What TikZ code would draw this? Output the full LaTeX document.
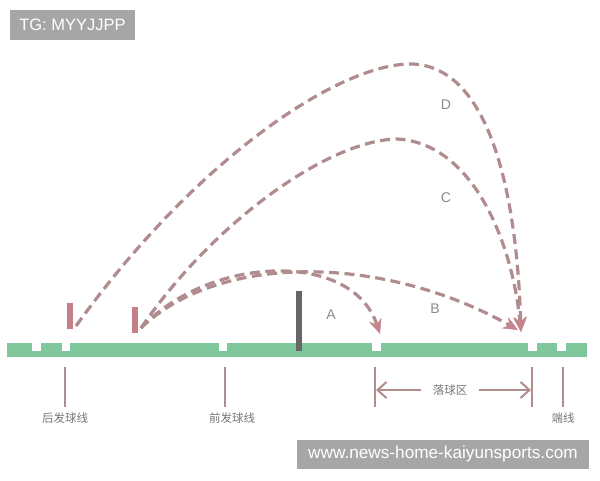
\documentclass[tikz,border=0pt]{standalone}
\usepackage{fontspec}
\newfontfamily\cjk{Noto Sans CJK SC}
\newfontfamily\wmfont{Liberation Sans}
\usetikzlibrary{arrows.meta}
\definecolor{court}{RGB}{128,199,156}
\definecolor{shotc}{RGB}{176,140,142}
\definecolor{tipc}{RGB}{198,132,142}
\definecolor{racketc}{RGB}{196,128,136}
\definecolor{netc}{RGB}{102,102,102}
\definecolor{labc}{RGB}{118,118,118}
\definecolor{wmbg}{RGB}{166,166,166}
\tikzset{shot/.style={draw=shotc, line width=3.2pt, dash pattern=on 10pt off 5.5pt,
    -{Stealth[length=15pt,width=13pt,inset=5pt,line width=0.5pt,color=tipc,fill=tipc]}},
  racket/.style={rectangle, fill=racketc, minimum width=6pt, minimum height=26pt, inner sep=0pt},
  tick/.style={draw=shotc, line width=2pt},
  lab/.style={text=labc, font=\cjk\fontsize{11.5}{12}\selectfont, inner sep=0pt},
  shotlab/.style={text=labc!85, font=\wmfont\fontsize{14}{15}\selectfont, inner sep=0pt},
  wmark/.style={fill=wmbg, text=white, font=\wmfont\fontsize{16.5}{18}\selectfont, inner sep=0pt}}
\begin{document}
\begin{tikzpicture}[x=1pt,y=-1pt]
  \useasboundingbox (0,0) rectangle (600,480);
  % court
  \fill[court] (7,343) rectangle (587,357);
  \foreach \a/\b in {32/41,62/70,219/227,372/381,528/537,557/566}
    \fill[white] (\a,342.5) rectangle (\b,351);
  \fill[netc] (296,291) rectangle (302,351);
  \node[racket] (rk1) at (70,316) {};
  \node[racket] (rk2) at (135,319.5) {};
  \coordinate (hit1) at (76,326);
  \coordinate (hit2) at (141,328);
  \coordinate (landA) at (380,334);
  \coordinate (landB) at (518,330);
  \coordinate (landC) at (521,332);
  % shots
  \draw[shot] (hit2) .. controls (210,255) and (352,250) .. (landA);
  \draw[shot] (hit2) .. controls (220,252) and (385,255) .. (landB);
  \draw[shot] (hit2) .. controls (215,220) and (330,140) .. (397,139)
    .. controls (472,143) and (512,240) .. (landC);
  \draw[shot] (hit1) .. controls (195,160) and (340,62) .. (413,64)
    .. controls (492,68) and (517,200) .. (landC);
  \node[shotlab] (la) at (331,315) {A};
  \node[shotlab] (lb) at (435,309) {B};
  \node[shotlab] (lc) at (446,198) {C};
  \node[shotlab] (ld) at (446,105) {D};
  % lines under the court
  \foreach \x/\n in {65/t1,225/t2,375/t3,532/t4,563/t5} {
    \coordinate (\n a) at (\x,367);
    \coordinate (\n b) at (\x,407);
    \draw[tick] (\n a) -- (\n b);
  }
  \node[lab] (back) at (65,418) {后发球线};
  \node[lab] (front) at (232,418) {前发球线};
  \node[lab] (endl) at (563,418) {端线};
  \node[lab] (zone) at (450,390) {落球区};
  \coordinate (z1) at (376,390);
  \coordinate (z2) at (531,390);
  \draw[tick, -{Straight Barb[length=9pt,width=16pt]}] (zone.west) ++(-12,0) -- (z1);
  \draw[tick, -{Straight Barb[length=9pt,width=16pt]}] (zone.east) ++(12,0) -- (z2);
  % watermarks
  \node[wmark, minimum width=125pt, minimum height=30pt] (tg) at (72.5,25) {TG: MYYJJPP};
  \node[wmark, font=\wmfont\fontsize{17.2}{18}\selectfont, minimum width=292pt, minimum height=29pt] (www) at (443,454.5) {www.news-home-kaiyunsports.com};
\end{tikzpicture}
\end{document}
